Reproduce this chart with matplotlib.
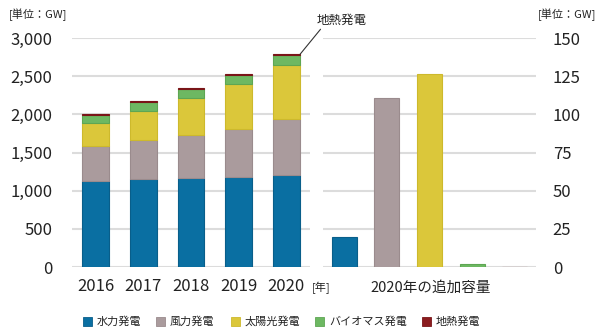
import matplotlib
matplotlib.use('Agg')
import matplotlib.pyplot as plt
from matplotlib.patches import Rectangle

plt.rcParams['font.family'] = ['Noto Sans CJK JP', 'DejaVu Sans']

# Installed capacity by source [GW]
years = ['2016', '2017', '2018', '2019', '2020']
hydro = [1125, 1150, 1170, 1185, 1205]
wind = [465, 512, 562, 620, 730]
solar = [296, 386, 487, 587, 713]
bio = [104, 110, 115, 122, 125]
geo = [13, 13, 14, 14, 14]

# Capacity added in 2020 [GW]
sources = ['水力発電', '風力発電', '太陽光発電', 'バイオマス発電', '地熱発電']
added_2020 = [19.5, 111, 126.5, 2.2, 0.2]

colors = ['#0a6fa2', '#aa9b9d', '#dbc73a', '#6db862', '#8b1c1f']
edges = ['#095e8a', '#9a8b8d', '#cdb92c', '#5ea653', '#7a1518']
grid_c = '#dcdcdc'
txt_c = '#222222'

fig = plt.figure(figsize=(6.0, 3.33), dpi=100)
ax1 = fig.add_axes([0.12, 0.198, 0.3967, 0.6877])
ax2 = fig.add_axes([0.5383, 0.198, 0.355, 0.6877])

# left: stacked bars
x = range(len(years))
bottom = [0] * len(years)
for vals, c, e in zip([hydro, wind, solar, bio, geo], colors, edges):
    ax1.bar(x, vals, width=0.565, bottom=bottom, color=c, edgecolor=e,
            linewidth=0.8, zorder=3)
    bottom = [b + v for b, v in zip(bottom, vals)]

ax1.set_xlim(-0.5, 4.5)
ax1.set_ylim(0, 3000)
ax1.set_yticks(range(0, 3001, 500))
ax1.set_yticklabels([f'{v:,}' for v in range(0, 3001, 500)])
ax1.set_xticks(list(x))
ax1.set_xticklabels(years)

# right: additions in 2020
x2 = range(len(sources))
ax2.bar(x2, added_2020, width=0.59, color=colors, edgecolor=edges,
        linewidth=0.8, zorder=3)
ax2.set_xlim(-0.5, 4.5)
ax2.set_ylim(0, 150)
ax2.set_yticks(range(0, 151, 25))
ax2.set_xticks([])
ax2.yaxis.tick_right()

for ax in (ax1, ax2):
    for s in ax.spines.values():
        s.set_visible(False)
    ax.grid(axis='y', color=grid_c, linewidth=1.5, zorder=0)
    ax.tick_params(length=0, labelsize=12, colors=txt_c)
ax1.tick_params(axis='y', pad=14)
ax1.tick_params(axis='x', pad=8)
ax2.tick_params(axis='y', pad=12)

fig.text(0.52, 0.137, '[年]', fontsize=8, ha='left', va='center', color=txt_c)
fig.text(0.717, 0.137, '2020年の追加容量', fontsize=10.5, ha='center', va='center',
         color=txt_c)
fig.text(0.015, 0.955, '[単位：GW]', fontsize=8, ha='left', va='center', color=txt_c)
fig.text(0.993, 0.955, '[単位：GW]', fontsize=8, ha='right', va='center', color=txt_c)

# callout for the thin geothermal layer
ax1.annotate('地熱発電', xy=(4 + 0.29, bottom[4]),
             xytext=(0.528, 0.94), textcoords='figure fraction',
             fontsize=9, ha='left', va='center', color=txt_c,
             arrowprops=dict(arrowstyle='-', color='#333333', linewidth=0.8,
                             shrinkA=0, shrinkB=0, relpos=(0.12, 0.0)),
             annotation_clip=False)

# legend row
leg_x = [0.138, 0.26, 0.385, 0.525, 0.703]
for lx, name, c, e in zip(leg_x, sources, colors, edges):
    fig.patches.append(Rectangle((lx, 0.021), 0.015, 0.028, transform=fig.transFigure,
                                 facecolor=c, edgecolor=e, linewidth=0.6))
    fig.text(lx + 0.023, 0.035, name, fontsize=8, ha='left', va='center',
             color=txt_c)

fig.savefig('out.png', dpi=100)
